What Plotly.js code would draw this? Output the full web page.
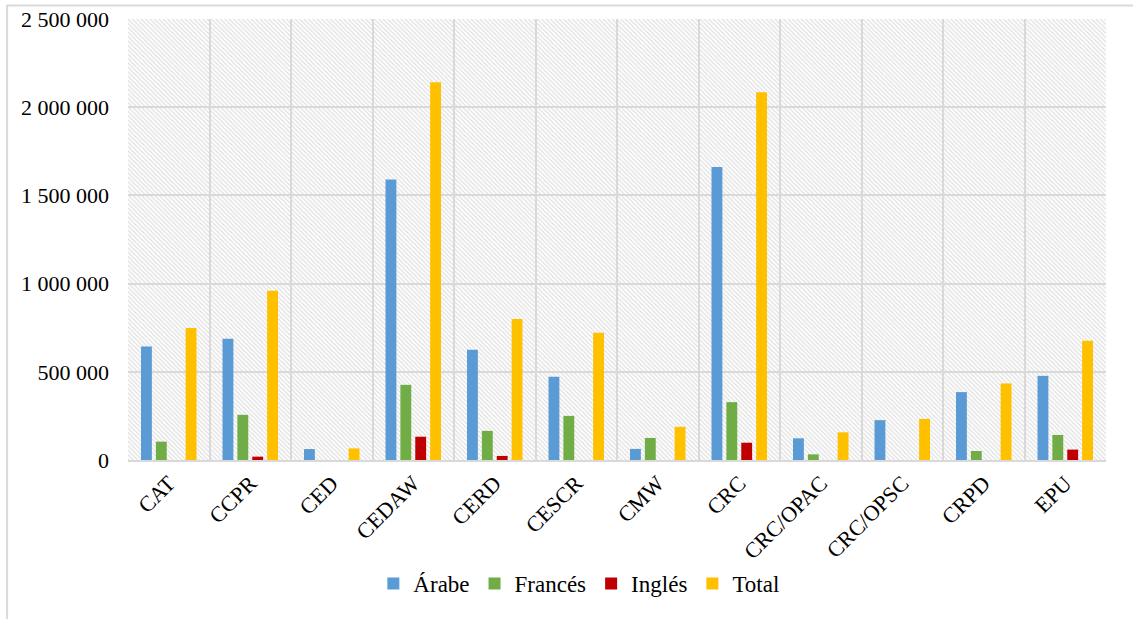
<!DOCTYPE html>
<html>
<head>
<meta charset="utf-8">
<script src="https://cdn.plot.ly/plotly-3.0.1.min.js"></script>
<style>
  html, body { margin: 0; padding: 0; background: #ffffff; }
  .c { width: 1133px; height: 619px; }
</style>
</head>
<body>
<div id="chart" class="c"></div>
<script>
// Treaty bodies (categories)
const categories = ['CAT', 'CCPR', 'CED', 'CEDAW', 'CERD', 'CESCR', 'CMW', 'CRC',
                    'CRC/OPAC', 'CRC/OPSC', 'CRPD', 'EPU'];

// Values per language
const arabe   = [643000, 687000, 62000, 1590000, 625000, 472000, 63000, 1661000, 123000, 226000, 385000, 477000];
const frances = [104000, 256000, 0, 426000, 165000, 250000, 125000, 328000, 32000, 0, 51000, 142000];
const ingles  = [0, 19000, 0, 132000, 23000, 0, 0, 98000, 0, 0, 0, 59000];
const total   = [748000, 960000, 66000, 2142000, 800000, 722000, 188000, 2085000, 157000, 233000, 434000, 676000];

const seriesNames = ['Árabe', 'Francés', 'Inglés', 'Total'];
const seriesColors = ['#5B9BD5', '#70AD47', '#C00000', '#FFC000'];
const seriesValues = [arabe, frances, ingles, total];

const yTicks = [0, 500000, 1000000, 1500000, 2000000, 2500000];

function buildTraces() {
  return seriesValues.map((vals, i) => ({
    type: 'bar',
    name: seriesNames[i],
    x: categories,
    y: vals,
    marker: { color: seriesColors[i], line: { width: 0 } }
  }));
}

// Diagonal hatch used as the plot-area fill
function hatchUri() {
  const svg =
    '<svg xmlns="http://www.w3.org/2000/svg" width="978" height="441">' +
    '<defs><pattern id="p" width="4.4" height="4.4" patternUnits="userSpaceOnUse">' +
    '<path d="M-1,-1 L5.4,5.4 M-1,3.4 L1,5.4 M3.4,-1 L5.4,1" stroke="#e0e0e0" stroke-width="1.3"/>' +
    '</pattern></defs><rect width="100%" height="100%" fill="#ffffff"/>' +
    '<rect width="100%" height="100%" fill="url(#p)"/></svg>';
  return 'data:image/svg+xml;charset=utf-8,' + encodeURIComponent(svg);
}

function txt(size) {
  return { family: 'Liberation Serif', size: size || 22, color: '#000000' };
}

function buildLayout() {
  return {
    width: 1133,
    height: 619,
    margin: { l: 128, r: 27, t: 19, b: 159 },
    separators: ', ',
    barmode: 'group',
    bargap: 0.27,
    bargroupgap: 0.27,
    font: txt(),
    legend: {
      orientation: 'h',
      x: 0.461, xanchor: 'center',
      y: -0.28, yanchor: 'middle',
      font: txt(23)
    },
    images: [{
      source: hatchUri(),
      xref: 'paper', yref: 'paper',
      x: 0, y: 1, sizex: 1, sizey: 1,
      xanchor: 'left', yanchor: 'top',
      sizing: 'stretch',
      layer: 'below'
    }],
    shapes: [{
      // light frame around the chart
      type: 'rect', xref: 'paper', yref: 'paper',
      x0: -0.1236, x1: 1.2, y0: -0.5, y1: 1.0306,
      line: { color: '#d9d9d9', width: 2 },
      layer: 'below'
    }],
    xaxis: {
      type: 'category',
      tickson: 'boundaries',
      showgrid: true,
      gridcolor: '#d9d9d9',
      gridwidth: 1.5,
      showline: true,
      linecolor: '#d9d9d9',
      linewidth: 1.5,
      ticks: '',
      tickangle: -45,
      tickfont: txt()
    },
    yaxis: {
      range: [0, 2500000],
      tickvals: yTicks,
      tickformat: ',d',
      showgrid: true,
      gridcolor: '#d9d9d9',
      gridwidth: 1.5,
      zeroline: false,
      ticks: '',
      ticklabelstandoff: 18,
      tickfont: txt()
    }
  };
}

Plotly.newPlot('chart', buildTraces(), buildLayout(), { displayModeBar: false });
</script>
</body>
</html>
